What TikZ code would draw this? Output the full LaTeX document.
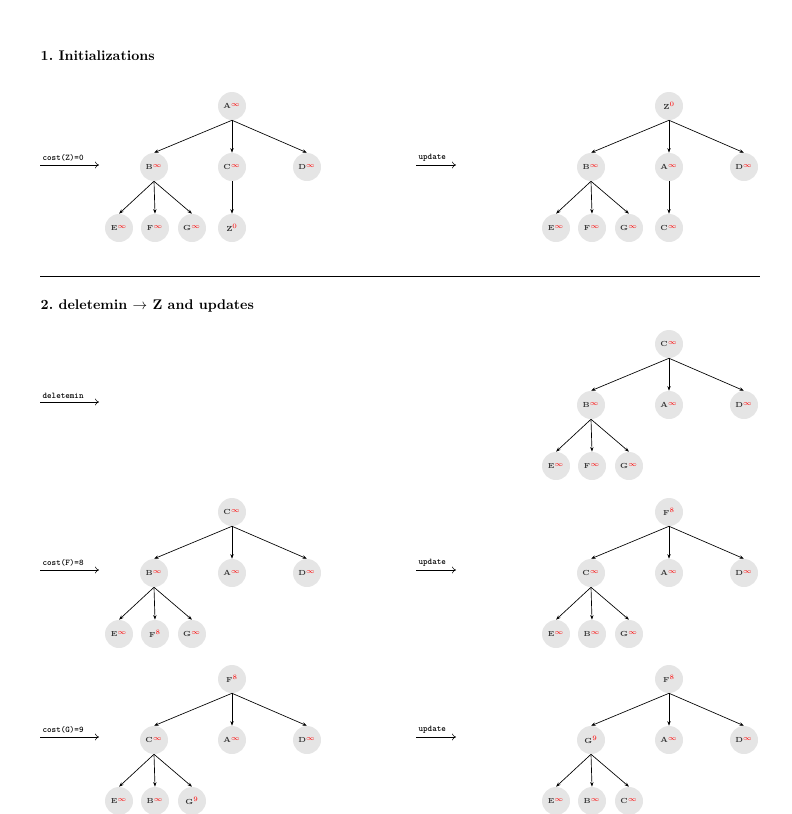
\documentclass[tikz,border=0pt]{standalone}
\usetikzlibrary{arrows.meta,calc}
\newcommand\nl[2]{#1\textsuperscript{\color{red}$#2$}}
\newcommand\mytree[7]{%
 \node[nd] (#1r) at (#2,#3) {#4};
 \node[nd] (#1a) at ($(#1r)+(-78,61)$) {#5};
 \node[nd] (#1b) at ($(#1r)+(0,61)$) {#6};
 \node[nd] (#1c) at ($(#1r)+(75,61)$) {#7};
 \draw[ed] (#1r.south) -- (#1a.north);
 \draw[ed] (#1r.south) -- (#1b.north);
 \draw[ed] (#1r.south) -- (#1c.north);
}
\newcommand\grand[4]{%
 \node[nd] (#1e) at ($(#1a)+(-35,61)$) {#2};
 \node[nd] (#1f) at ($(#1a)+(1,61)$) {#3};
 \node[nd] (#1g) at ($(#1a)+(38,61)$) {#4};
 \draw[ed] (#1a.south) -- (#1e.north);
 \draw[ed] (#1a.south) -- (#1f.north);
 \draw[ed] (#1a.south) -- (#1g.north);
}
\newcommand\larr[5]{\coordinate (#1s) at (#2,#3); \coordinate (#1t) at ($(#2,#3)+(#5,0)$);
 \draw[lab] (#1s) -- (#1t);
 \node[ltx] (#1l) at ($(#1s)+(1,-2)$) {#4};}
\begin{document}
\begin{tikzpicture}[x=0.75pt,y=-0.75pt,
 nd/.style={circle,fill=black!10,minimum size=21pt,inner sep=0pt,font=\fontsize{5.5}{6}\selectfont\bfseries,text=black!80},
 ed/.style={-{Stealth[length=3.5pt,width=2.5pt]},line width=0.5pt},
 lab/.style={-{To[length=3pt,width=5pt]},line width=0.4pt},
 ttl/.style={anchor=west,font=\fontsize{10.5}{12}\selectfont\bfseries},
 ltx/.style={font=\fontsize{6.5}{7}\selectfont\ttfamily\bfseries,anchor=south west,inner sep=1pt}]
\useasboundingbox (0,0) rectangle (792,814);
\node[ttl] (t1) at (36,56) {1.\ Initializations};
\node[ttl] (t2) at (36,306) {2.\ deletemin $\rightarrow$ Z and updates};
\coordinate (r1) at (40,276); \coordinate (r2) at (760,276);
\draw[line width=0.5pt] (r1) -- (r2);
\larr{aa}{40}{165}{cost(Z)=0}{59}
\larr{ab}{416}{165}{update}{40}
\larr{ac}{40}{402}{deletemin}{59}
\larr{ad}{40}{570}{cost(F)=8}{59}
\larr{ae}{416}{570}{update}{40}
\larr{af}{40}{737}{cost(G)=9}{59}
\larr{ag}{416}{737}{update}{40}
% tree 1
\mytree{p}{232}{106}{\nl{A}{\infty}}{\nl{B}{\infty}}{\nl{C}{\infty}}{\nl{D}{\infty}}
\grand{p}{\nl{E}{\infty}}{\nl{F}{\infty}}{\nl{G}{\infty}}
\node[nd] (pz) at ($(pb)+(0,61)$) {\nl{Z}{0}}; \draw[ed] (pb.south) -- (pz.north);
% tree 2
\mytree{q}{669}{106}{\nl{Z}{0}}{\nl{B}{\infty}}{\nl{A}{\infty}}{\nl{D}{\infty}}
\grand{q}{\nl{E}{\infty}}{\nl{F}{\infty}}{\nl{G}{\infty}}
\node[nd] (qz) at ($(qb)+(0,61)$) {\nl{C}{\infty}}; \draw[ed] (qb.south) -- (qz.north);
% tree 3
\mytree{s}{669}{344}{\nl{C}{\infty}}{\nl{B}{\infty}}{\nl{A}{\infty}}{\nl{D}{\infty}}
\grand{s}{\nl{E}{\infty}}{\nl{F}{\infty}}{\nl{G}{\infty}}
% tree 4
\mytree{u}{232}{512}{\nl{C}{\infty}}{\nl{B}{\infty}}{\nl{A}{\infty}}{\nl{D}{\infty}}
\grand{u}{\nl{E}{\infty}}{\nl{F}{8}}{\nl{G}{\infty}}
% tree 5
\mytree{v}{669}{512}{\nl{F}{8}}{\nl{C}{\infty}}{\nl{A}{\infty}}{\nl{D}{\infty}}
\grand{v}{\nl{E}{\infty}}{\nl{B}{\infty}}{\nl{G}{\infty}}
% tree 6
\mytree{w}{232}{679}{\nl{F}{8}}{\nl{C}{\infty}}{\nl{A}{\infty}}{\nl{D}{\infty}}
\grand{w}{\nl{E}{\infty}}{\nl{B}{\infty}}{\nl{G}{9}}
% tree 7
\mytree{x}{669}{679}{\nl{F}{8}}{\nl{G}{9}}{\nl{A}{\infty}}{\nl{D}{\infty}}
\grand{x}{\nl{E}{\infty}}{\nl{B}{\infty}}{\nl{C}{\infty}}
\end{tikzpicture}
\end{document}
